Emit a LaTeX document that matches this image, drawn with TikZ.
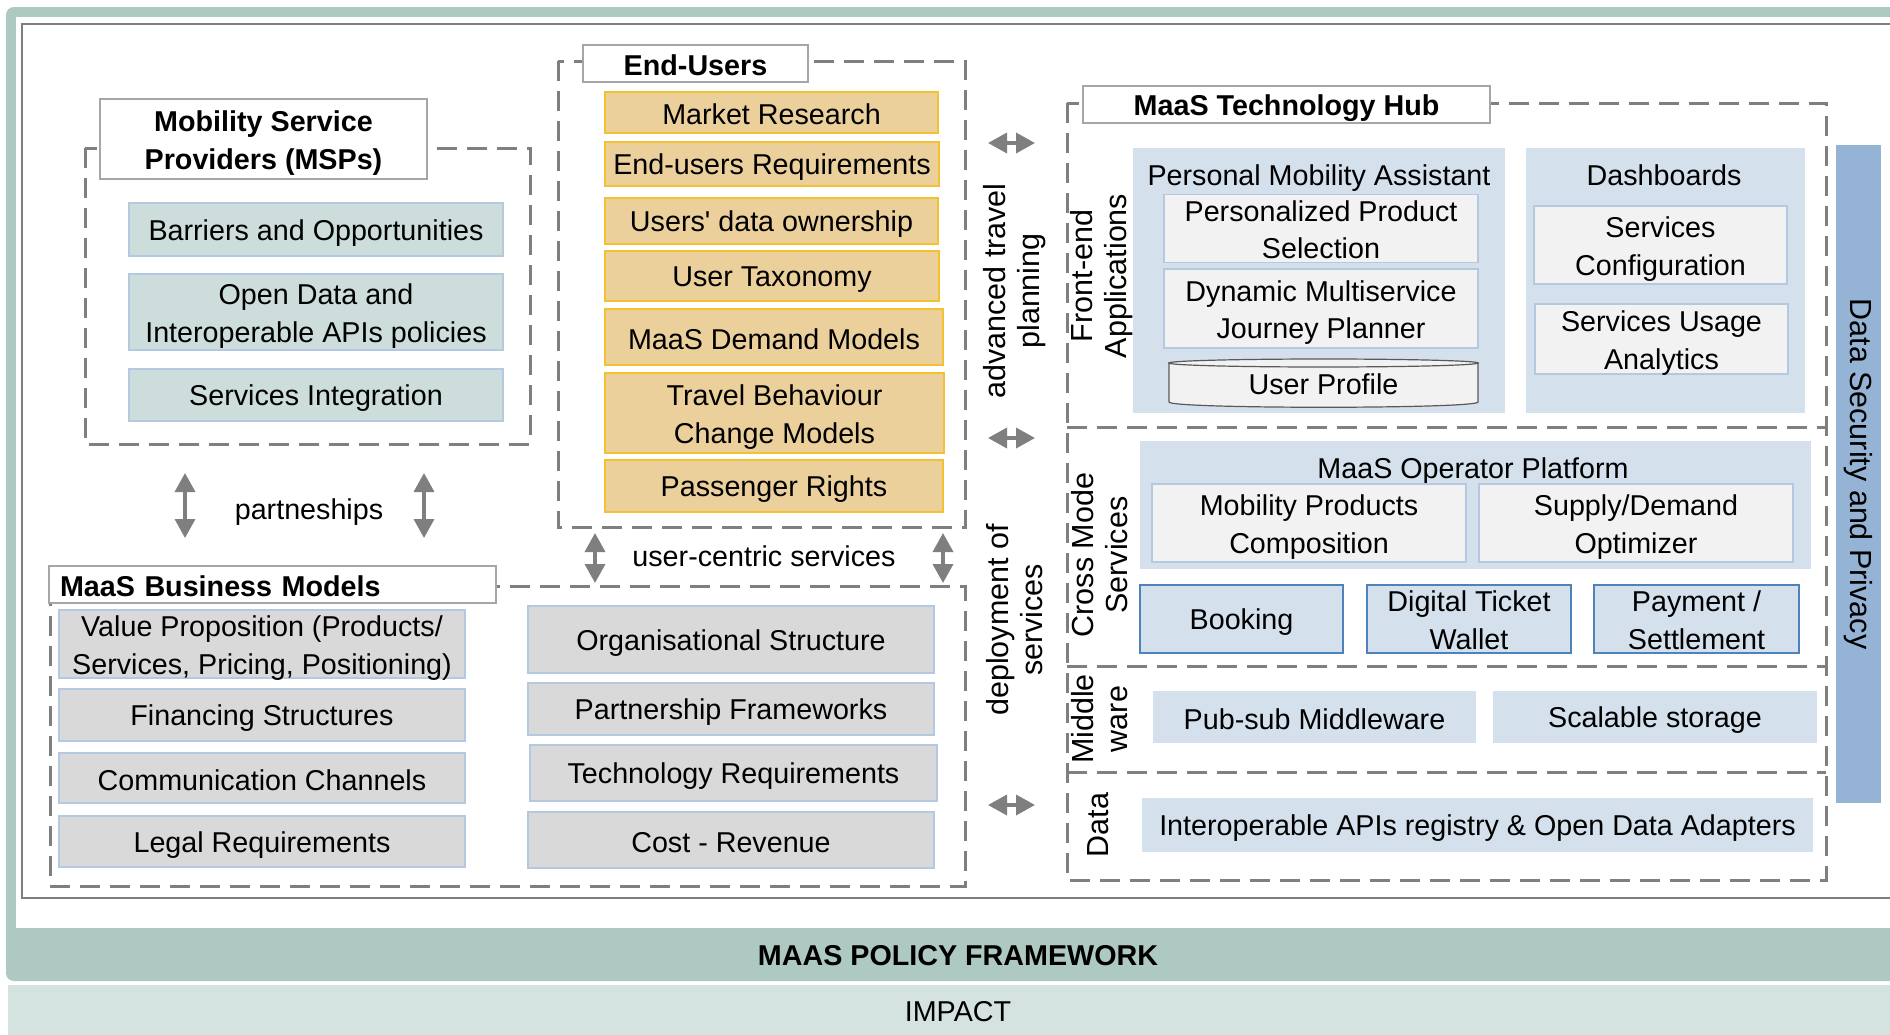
\documentclass[tikz,border=0pt]{standalone}
\usepackage{fontspec}
\setmainfont{Liberation Sans}
\usepackage{tikz}
\usetikzlibrary{arrows.meta}
\usepackage{xcolor}
\definecolor{frameteal}{HTML}{AEC8C2}
\definecolor{impactteal}{HTML}{D4E3DF}
\definecolor{linegray}{HTML}{7F7F7F}
\definecolor{titlegray}{HTML}{A6A6A6}
\definecolor{mspfill}{HTML}{CCDDDB}
\definecolor{boxblue}{HTML}{B4C8DF}
\definecolor{userfill}{HTML}{EBD09C}
\definecolor{usergold}{HTML}{F2C232}
\definecolor{bmfill}{HTML}{D9D9D9}
\definecolor{hubfill}{HTML}{D4E0EC}
\definecolor{itemfill}{HTML}{F2F2F2}
\definecolor{servblue}{HTML}{4F81BD}
\definecolor{secblue}{HTML}{95B3D5}
\definecolor{cylgray}{HTML}{595959}
\newcommand{\boxfont}{\fontsize{28.7}{37.5}\selectfont}
\newcommand{\sidefont}{\fontsize{30.5}{34}\selectfont}
\tikzset{%
	box base/.style={
		rectangle,
		inner sep=0pt,
		align=center,
		font=\boxfont,
		execute at begin node={\rule{0pt}{0.95em}},
		execute at end node={\rule[-0.1em]{0pt}{0.1em}}
	},
	two line/.style={text height=64.2pt, text depth=3.5pt},
	msp box/.style={box base, fill=mspfill, draw=boxblue, line width=1.5pt},
	user box/.style={box base, fill=userfill, draw=usergold, line width=2pt},
	bm box/.style={box base, fill=bmfill, draw=boxblue, line width=1.5pt},
	title box/.style={box base, fill=white, draw=titlegray, line width=2pt, font=\boxfont\bfseries},
	hub panel/.style={rectangle, fill=hubfill, inner sep=0pt},
	hub item/.style={box base, fill=itemfill, draw=boxblue, line width=1.5pt},
	hub service/.style={box base, fill=hubfill, draw=servblue, line width=2pt},
	hub store/.style={box base, fill=hubfill},
	group frame/.style={draw=linegray, line width=3pt, dash pattern=on 20pt off 10pt},
	side label/.style={rotate=90, align=center, font=\sidefont},
	gray arrow/.style={
		draw=linegray,
		line width=3.5pt,
		>={Triangle[width=20pt,length=19pt]},
		<->
	},
}
\begin{document}
\begin{tikzpicture}[x=1pt, y=-1pt]
			\useasboundingbox (0,0) rectangle (1890,1034);
			\clip (0,0) rectangle (1890,1034);
			\fill[white] (0,0) rectangle (1890,1034);
			
			% Policy frame and impact band
			\fill[frameteal, rounded corners=8pt] (6,7) rectangle (1930,981);
			\fill[white] (16,17) rectangle (1910,928);
			\fill[impactteal] (8,985) rectangle (1930,1050);
			\draw[linegray, line width=2.5pt] (22,24) rectangle (1910,898);
			\node[font=\boxfont\bfseries] (policy) at (958,956) {MAAS POLICY FRAMEWORK};
			\node[font=\boxfont] (impact) at (958,1011.5) {IMPACT};
			
			% Mobility Service Providers
			\draw[group frame] (85,148) rectangle (530,444);
			\node[title box, two line, minimum width=327pt, minimum height=80pt] (msp) at (263.5,139) {Mobility Service\\Providers (MSPs)};
			\node[msp box, minimum width=374pt, minimum height=53pt] (barriers) at (316,229.5) {Barriers and Opportunities};
			\node[msp box, two line, minimum width=374pt, minimum height=76pt] (opendata) at (316,312) {Open Data and\\Interoperable APIs policies};
			\node[msp box, minimum width=374pt, minimum height=52pt] (integration) at (316,395) {Services Integration};
			
			% End-Users
			\draw[group frame] (558,61) rectangle (965,527);
			\node[title box, minimum width=225pt, minimum height=37pt] (endusers) at (695.5,63.5) {End-Users};
			\node[user box, minimum width=333pt, minimum height=41pt] (research) at (771.5,112.5) {Market Research};
			\node[user box, minimum width=334pt, minimum height=44pt] (requirements) at (772,164) {End-users Requirements};
			\node[user box, minimum width=333pt, minimum height=46pt] (ownership) at (771.5,221) {Users\textquotesingle{} data ownership};
			\node[user box, minimum width=334pt, minimum height=50pt] (taxonomy) at (772,276) {User Taxonomy};
			\node[user box, minimum width=338pt, minimum height=56pt] (demand) at (774,337) {MaaS Demand Models};
			\node[user box, two line, minimum width=339pt, minimum height=80pt] (behaviour) at (774.5,413) {Travel Behaviour\\Change Models};
			\node[user box, minimum width=338pt, minimum height=52pt] (rights) at (774,486) {Passenger Rights};
			
			% MaaS Business Models
			\draw[group frame] (50,586) rectangle (965,886);
			\node[title box, minimum height=37pt, text width=425pt, inner xsep=11pt, align=left] (business) at (272.5,584.5) {MaaS Business Models};
			\node[bm box, two line, minimum width=406pt, minimum height=66pt] (value) at (262,644) {Value Proposition (Products/\\Services, Pricing, Positioning)};
			\node[bm box, minimum width=406pt, minimum height=52pt] (financing) at (262,715) {Financing Structures};
			\node[bm box, minimum width=406pt, minimum height=50pt] (channels) at (262,778) {Communication Channels};
			\node[bm box, minimum width=406pt, minimum height=51pt] (legal) at (262,841.5) {Legal Requirements};
			\node[bm box, minimum width=406pt, minimum height=67pt] (organisation) at (731,639.5) {Organisational Structure};
			\node[bm box, minimum width=406pt, minimum height=52pt] (partnership) at (731,709) {Partnership Frameworks};
			\node[bm box, minimum width=407pt, minimum height=56pt] (technology) at (733.5,773) {Technology Requirements};
			\node[bm box, minimum width=406pt, minimum height=56pt] (cost) at (731,840) {Cost - Revenue};
			
			% partnerships and user-centric services
			\coordinate (pa1) at (185,473);
			\coordinate (pb1) at (185,538);
			\coordinate (pa2) at (424,473);
			\coordinate (pb2) at (424,538);
			\draw[gray arrow] (pa1) -- (pb1);
			\draw[gray arrow] (pa2) -- (pb2);
			\node[font=\boxfont] (partners) at (309,512) {partneships};
			\coordinate (ua1) at (595,533);
			\coordinate (ub1) at (595,583);
			\coordinate (ua2) at (943,533);
			\coordinate (ub2) at (943,583);
			\draw[gray arrow] (ua1) -- (ub1);
			\draw[gray arrow] (ua2) -- (ub2);
			\node[font=\boxfont] (usercentric) at (764,556) {user-centric services};
			
			% MaaS Technology Hub
			\draw[group frame] (1067,103) rectangle (1826,880);
			\draw[group frame] (1067,427) -- (1826,427);
			\draw[group frame] (1067,666) -- (1826,666);
			\draw[group frame] (1067,772) -- (1826,772);
			\node[title box, minimum width=407pt, minimum height=37pt] (hub) at (1286.5,104.5) {MaaS Technology Hub};
			
			% Front-end applications
			\node[hub panel, minimum width=372pt, minimum height=265pt] (pma) at (1319,280.5) {};
			\node[font=\boxfont] (pmatitle) at (1319,178) {Personal Mobility Assistant};
			\node[hub item, two line, minimum width=314pt, minimum height=67pt] (selection) at (1321,228.5) {Personalized Product\\Selection};
			\node[hub item, two line, minimum width=314pt, minimum height=79pt] (planner) at (1321,308.5) {Dynamic Multiservice\\Journey Planner};
			\filldraw[fill=itemfill, draw=cylgray, line width=1.2pt] (1169,363) -- (1169,402) .. controls (1169,409) and (1478,409) .. (1478,402) -- (1478,363) -- cycle;
			\filldraw[fill=itemfill, draw=cylgray, line width=1.2pt] (1323.5,363) ellipse [x radius=154.5, y radius=4];
			\node[font=\boxfont] (profile) at (1323.5,384) {User Profile};
			\node[hub panel, minimum width=279pt, minimum height=265pt] (dashpanel) at (1665.5,280.5) {};
			\node[font=\boxfont] (dashtitle) at (1664,175) {Dashboards};
			\node[hub item, two line, minimum width=253pt, minimum height=78pt] (configuration) at (1660.5,245) {Services\\Configuration};
			\node[hub item, two line, minimum width=253pt, minimum height=70pt] (analytics) at (1661.5,339) {Services Usage\\Analytics};
			
			% Cross mode services
			\node[hub panel, minimum width=671pt, minimum height=128pt] (operator) at (1475.5,505) {};
			\node[font=\boxfont] (optitle) at (1473,471) {MaaS Operator Platform};
			\node[hub item, two line, minimum width=314pt, minimum height=78pt] (composition) at (1309,523) {Mobility Products\\Composition};
			\node[hub item, two line, minimum width=314pt, minimum height=78pt] (optimizer) at (1636,523) {Supply/Demand\\Optimizer};
			\node[hub service, minimum width=203pt, minimum height=68pt] (booking) at (1241.5,619) {Booking};
			\node[hub service, two line, minimum width=204pt, minimum height=68pt] (wallet) at (1469,619) {Digital Ticket\\Wallet};
			\node[hub service, two line, minimum width=205pt, minimum height=68pt] (payment) at (1696.5,619) {Payment /\\Settlement};
			
			% Middleware and data
			\node[hub store, minimum width=323pt, minimum height=52pt] (pubsub) at (1314.5,717) {Pub-sub Middleware};
			\node[hub store, minimum width=324pt, minimum height=52pt] (storage) at (1655,717) {Scalable storage};
			\node[hub store, minimum width=671pt, minimum height=54pt] (adapters) at (1477.5,825) {Interoperable APIs registry \& Open Data Adapters};
			\node[fill=secblue, rotate=-90, minimum width=658pt, minimum height=45pt, inner sep=0pt, font=\sidefont] (security) at (1858.5,474) {Data Security and Privacy};
			
			% Layer labels
			\node[side label] (frontend) at (1101.5,276) {Front-end\\Applications};
			\node[side label] (crossmode) at (1100,555) {Cross Mode\\Services};
			\node[side label] (middleware) at (1100,719) {Middle\\ware};
			\node[side label] (datalayer) at (1098,825) {Data};
			\node[side label] (travel) at (1015,291) {advanced travel\\planning};
			\node[side label] (deploy) at (1015,620) {deployment of\\services};
			
			% Arrows towards the hub
			\coordinate (ha1) at (988,143);
			\coordinate (hb1) at (1035,143);
			\coordinate (ha2) at (988,438);
			\coordinate (hb2) at (1035,438);
			\coordinate (ha3) at (988,805);
			\coordinate (hb3) at (1035,805);
			\draw[gray arrow] (ha1) -- (hb1);
			\draw[gray arrow] (ha2) -- (hb2);
			\draw[gray arrow] (ha3) -- (hb3);
			
		\end{tikzpicture}
\end{document}
